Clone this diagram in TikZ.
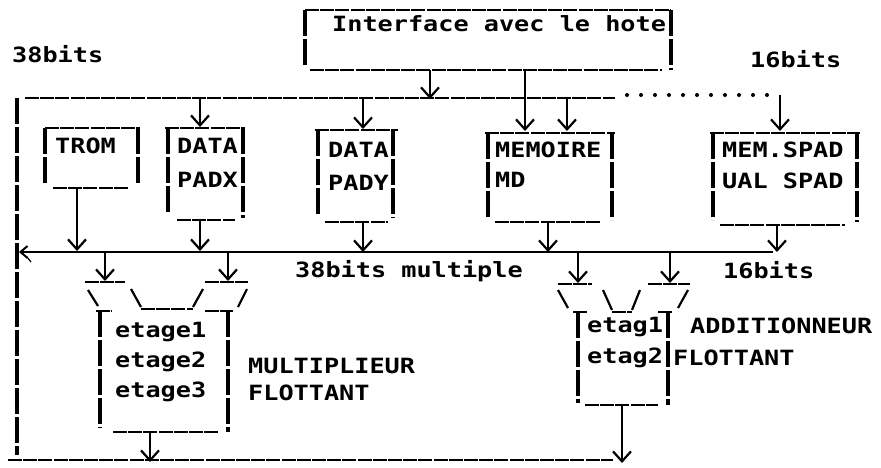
\documentclass[tikz,border=0pt]{standalone}
\usepackage{fontspec}
\usetikzlibrary{arrows.meta}
\newfontfamily\tw[FakeStretch=1.2]{DejaVu Sans Mono}
\begin{document}
\begin{tikzpicture}[x=1pt,y=-1pt,
  hl/.style={line width=2pt, dash pattern=on 14pt off 1.2pt},
  vl/.style={line width=3.4pt, dash pattern=on 26pt off 3pt},
  dl/.style={line width=2.2pt},
  arr/.style={line width=2.2pt, -{Straight Barb[length=10pt,width=18pt]}},
  lbl/.style={anchor=base west, inner sep=0pt, font=\tw\bfseries\fontsize{21}{24}\selectfont},
  dotl/.style={line width=4pt, line cap=round, dash pattern=on 0pt off 14pt}]
\useasboundingbox (0,0) rectangle (881,467);

% ---------- labels ----------
\node[lbl] (t-iface) at (332,31) {Interface avec le hote};
\node[lbl] (t-38) at (12,62) {38bits};
\node[lbl] (t-16) at (750,67) {16bits};
\node[lbl] (t-trom) at (55,153) {TROM};
\node[lbl] (t-padx1) at (177,153) {DATA};
\node[lbl] (t-padx2) at (177,187) {PADX};
\node[lbl] (t-pady1) at (328,157) {DATA};
\node[lbl] (t-pady2) at (328,190) {PADY};
\node[lbl] (t-mem1) at (495,157) {MEMOIRE};
\node[lbl] (t-mem2) at (495,187) {MD};
\node[lbl] (t-spad1) at (722,157) {MEM.SPAD};
\node[lbl] (t-spad2) at (722,188) {UAL SPAD};
\node[lbl] (t-38m) at (295,277) {38bits multiple};
\node[lbl] (t-16b) at (723,278) {16bits};
\node[lbl] (t-e1) at (115,337) {etage1};
\node[lbl] (t-e2) at (115,367) {etage2};
\node[lbl] (t-e3) at (115,397) {etage3};
\node[lbl] (t-mul1) at (248,373) {MULTIPLIEUR};
\node[lbl] (t-mul2) at (248,400) {FLOTTANT};
\node[lbl] (t-a1) at (587,332) {etag1};
\node[lbl] (t-a2) at (587,363) {etag2};
\node[lbl] (t-add1) at (690,333) {ADDITIONNEUR};
\node[lbl] (t-add2) at (673,365) {FLOTTANT};

% ---------- boxes ----------
% interface
\draw[hl] (305,10) -- (670,10);
\draw[vl] (305,10) -- (305,65);
\draw[vl] (671,10) -- (671,70);
\draw[hl] (310,70) -- (662,70);
% TROM
\draw[hl] (45,128) -- (140,128);
\draw[vl] (45,128) -- (45,183);
\draw[vl] (138,128) -- (138,185);
\draw[hl] (53,188) -- (128,188);
% DATA PADX
\draw[hl] (165,128) -- (245,128);
\draw[vl] (168,128) -- (168,215);
\draw[vl] (243,128) -- (243,218);
\draw[hl] (177,220) -- (235,220);
% DATA PADY
\draw[hl] (315,130) -- (398,130);
\draw[vl] (318,130) -- (318,215);
\draw[vl] (393,130) -- (393,218);
\draw[hl] (325,222) -- (388,222);
% MEMOIRE
\draw[hl] (485,133) -- (615,133);
\draw[vl] (488,133) -- (488,218);
\draw[vl] (612,133) -- (612,220);
\draw[hl] (495,222) -- (600,222);
% MEM.SPAD
\draw[hl] (710,133) -- (860,133);
\draw[vl] (713,133) -- (713,220);
\draw[vl] (857,133) -- (857,222);
\draw[hl] (720,225) -- (845,225);

% multiplier
\draw[hl] (85,282) -- (125,282);
\draw[hl] (205,282) -- (248,282);
\draw[dl] (88,290) -- (98,306);
\draw[dl] (131,289) -- (141,307);
\draw[hl] (141,309) -- (193,309);
\draw[dl] (193,307) -- (203,289);
\draw[dl] (247,289) -- (238,307);
\draw[hl] (96,311) -- (112,311);
\draw[hl] (205,311) -- (233,311);
\draw[vl] (100,311) -- (100,428);
\draw[vl] (228,311) -- (228,432);
\draw[hl] (113,432) -- (218,432);

% adder
\draw[hl] (558,284) -- (592,284);
\draw[hl] (648,284) -- (690,284);
\draw[dl] (558,290) -- (568,308);
\draw[dl] (603,290) -- (612,310);
\draw[hl] (612,312) -- (632,312);
\draw[dl] (632,310) -- (640,290);
\draw[dl] (688,290) -- (678,308);
\draw[hl] (573,312) -- (587,312);
\draw[hl] (658,312) -- (673,312);
\draw[vl] (578,312) -- (578,403);
\draw[vl] (668,312) -- (668,405);
\draw[hl] (585,405) -- (658,405);

% ---------- buses ----------
\coordinate (b1w) at (25,98);
\coordinate (b1e) at (615,98);
\draw[hl] (b1w) -- (b1e);
\coordinate (dotw) at (627,95);
\coordinate (dote) at (780,95);
\draw[dotl] (dotw) -- (dote);
\coordinate (lvt) at (17,98);
\coordinate (lvb) at (17,455);
\draw[vl] (lvt) -- (lvb);
\coordinate (b2e) at (773,252);
\coordinate (b2w) at (19,252);
\draw[line width=2pt, -{Straight Barb[length=7pt,width=12pt]}] (b2e) -- (b2w);
\draw[line width=1.2pt] (27,257) -- (31,262);
\coordinate (b3w) at (8,460);
\coordinate (b3e) at (613,460);
\draw[hl] (b3w) -- (b3e);

% ---------- connectors ----------
\coordinate (if-o1) at (430,70);  \coordinate (b1-if) at (430,99);
\draw[arr] (if-o1) -- (b1-if);
\coordinate (if-o2) at (525,70);  \coordinate (mem-i1) at (525,131);
\draw[arr] (if-o2) -- (mem-i1);
\coordinate (b1-mem) at (567,98); \coordinate (mem-i2) at (567,131);
\draw[arr] (b1-mem) -- (mem-i2);
\coordinate (b1-padx) at (200,98); \coordinate (padx-i) at (200,127);
\draw[arr] (b1-padx) -- (padx-i);
\coordinate (b1-pady) at (363,98); \coordinate (pady-i) at (363,129);
\draw[arr] (b1-pady) -- (pady-i);
\coordinate (spad-i) at (780,131);
\draw[arr] (dote) -- (spad-i);

\coordinate (trom-o) at (77,188); \coordinate (b2-trom) at (77,251);
\draw[arr] (trom-o) -- (b2-trom);
\coordinate (padx-o) at (200,220); \coordinate (b2-padx) at (200,251);
\draw[arr] (padx-o) -- (b2-padx);
\coordinate (pady-o) at (363,222); \coordinate (b2-pady) at (363,252);
\draw[arr] (pady-o) -- (b2-pady);
\coordinate (mem-o) at (548,222); \coordinate (b2-mem) at (548,252);
\draw[arr] (mem-o) -- (b2-mem);
\coordinate (spad-o) at (777,225); \coordinate (b2-spad) at (777,252);
\draw[arr] (spad-o) -- (b2-spad);

\coordinate (b2-m1) at (105,252); \coordinate (mul-i1) at (105,281);
\draw[arr] (b2-m1) -- (mul-i1);
\coordinate (b2-m2) at (228,252); \coordinate (mul-i2) at (228,281);
\draw[arr] (b2-m2) -- (mul-i2);
\coordinate (b2-a1) at (578,253); \coordinate (add-i1) at (578,283);
\draw[arr] (b2-a1) -- (add-i1);
\coordinate (b2-a2) at (670,253); \coordinate (add-i2) at (670,283);
\draw[arr] (b2-a2) -- (add-i2);

\coordinate (mul-o) at (150,432); \coordinate (b3-mul) at (150,462);
\draw[arr] (mul-o) -- (b3-mul);
\coordinate (add-o) at (622,405); \coordinate (b3-add) at (622,463);
\draw[arr] (add-o) -- (b3-add);
\end{tikzpicture}
\end{document}
